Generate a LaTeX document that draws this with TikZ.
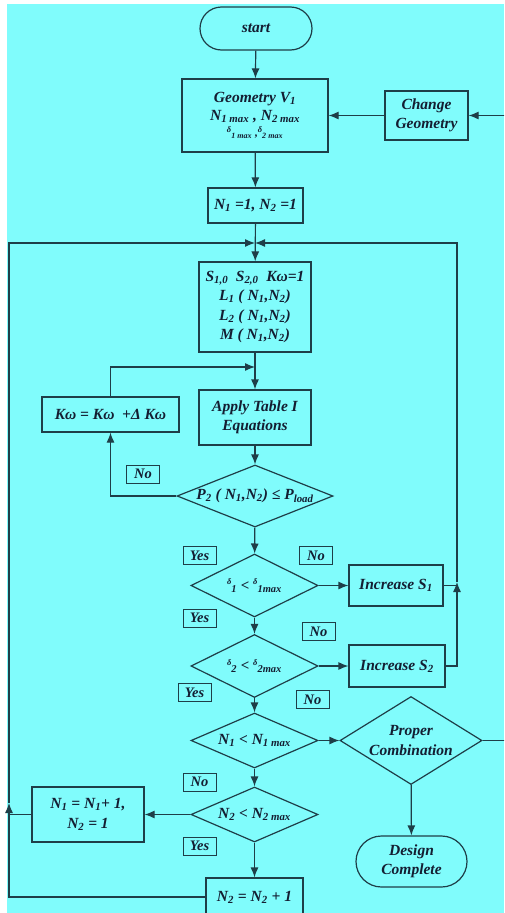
\documentclass[tikz,border=0pt]{standalone}
\usepackage{fontspec}
\setmainfont{Liberation Serif}
\usetikzlibrary{shapes.geometric,shapes.misc,arrows.meta}
\definecolor{bg}{RGB}{128,252,252}
\definecolor{lncol}{RGB}{30,62,72}
\definecolor{tx}{RGB}{20,30,50}
\newcommand{\sbs}[1]{\textsubscript{#1}}
\newcommand{\dl}{\raisebox{0.8ex}{\fontsize{8.5}{8.5}\selectfont δ}}
\begin{document}
\begin{tikzpicture}[x=1pt,y=-1pt,
  every node/.style={font=\fontsize{15.5}{19.5}\selectfont\bfseries\itshape, text=tx, align=center},
  box/.style={draw=lncol, line width=1.2pt, rectangle, inner sep=0pt},
  term/.style={box, rounded rectangle},
  dia/.style={draw=lncol, line width=1.2pt, diamond, inner sep=0pt},
  lab/.style={draw=lncol, line width=1pt, inner sep=0pt, minimum width=33pt, minimum height=18pt, font=\fontsize{14.5}{16}\selectfont\bfseries\itshape},
  arr/.style={draw=lncol, line width=1.2pt, -{Latex[length=10pt,width=8pt]}},
  plain/.style={draw=lncol, line width=1.2pt}
]
\useasboundingbox (0,0) rectangle (504,913);
\clip (0,0) rectangle (504,913);
\fill[white] (0,0) rectangle (504,913);
\fill[bg] (7,4) rectangle (504,913);

% nodes
\node[term, minimum width=112pt, minimum height=43pt] (start) at (256,28.5) {start};
\node[box, minimum width=146pt, minimum height=73pt] (geom) at (255,115.5)
  {Geometry V\sbs{1}\\[-2pt] N\sbs{1 max} , N\sbs{2 max}\\[-3pt] {\fontsize{11.5}{12}\selectfont \dl\sbs{1 max} ,\dl\sbs{2 max}}};
\node[box, minimum width=83pt, minimum height=49pt] (change) at (426.5,115.5) {Change\\Geometry};
\node[box, minimum width=95pt, minimum height=35pt] (init) at (255.5,205.5) {N\sbs{1} =1, N\sbs{2} =1};
\node[box, minimum width=112pt, minimum height=90pt] (sbox) at (255,307)
  {S\sbs{1,0}\ \ S\sbs{2,0}\ \ Kω=1\\L\sbs{1}\ ( N\sbs{1},N\sbs{2})\\L\sbs{2} ( N\sbs{1},N\sbs{2})\\M\ ( N\sbs{1},N\sbs{2})};
\node[box, minimum width=112pt, minimum height=55pt] (apply) at (255,417.5) {Apply Table I\\Equations};
\node[box, minimum width=137pt, minimum height=35pt] (kw) at (110.5,414.5) {Kω = Kω\ \ +Δ Kω};
\node[dia, minimum width=156pt, minimum height=62pt] (p2) at (255,496)
  {\makebox[0pt]{P\sbs{2} ( N\sbs{1},N\sbs{2}) ≤ P\sbs{load}}};
\node[dia, minimum width=127pt, minimum height=63pt] (d1) at (254.5,585.5)
  {\makebox[0pt]{\fontsize{15}{15}\selectfont\dl\sbs{1} < \dl\sbs{1max}}};
\node[dia, minimum width=127pt, minimum height=63pt] (d2) at (254.5,666)
  {\makebox[0pt]{\fontsize{15}{15}\selectfont\dl\sbs{2} < \dl\sbs{2max}}};
\node[dia, minimum width=127pt, minimum height=55pt] (n1) at (254.5,740.5)
  {\makebox[0pt]{N\sbs{1} < N\sbs{1 max}}};
\node[dia, minimum width=127pt, minimum height=55pt] (n2) at (254.5,814.5)
  {\makebox[0pt]{N\sbs{2} < N\sbs{2 max}}};
\node[dia, minimum width=142pt, minimum height=88pt] (pc) at (411,740.5)
  {\makebox[0pt]{\shortstack{Proper\\[2pt]Combination}}};
\node[box, minimum width=94pt, minimum height=41pt] (inc1) at (396,585.5) {Increase S\sbs{1}};
\node[box, minimum width=96pt, minimum height=42pt] (inc2) at (397,666) {Increase S\sbs{2}};
\node[box, minimum width=112pt, minimum height=55pt] (n1box) at (88,814.5) {N\sbs{1} = N\sbs{1}+ 1,\\N\sbs{2} = 1};
\node[term, minimum width=111pt, minimum height=51pt] (design) at (411.5,861.5) {Design\\Complete};
\node[box, minimum width=97pt, minimum height=38pt] (n2box) at (254.5,897) {N\sbs{2} = N\sbs{2} + 1};

% labels
\node[lab] (no1) at (143,474) {No};
\node[lab] (yes1) at (199.5,555.5) {Yes};
\node[lab] (no2) at (316,555.5) {No};
\node[lab] (yes2) at (199.5,618) {Yes};
\node[lab] (no3) at (318.5,631.5) {No};
\node[lab] (yes3) at (194.5,692.5) {Yes};
\node[lab] (no4) at (312.5,699.5) {No};
\node[lab] (no5) at (199.5,782) {No};
\node[lab] (yes4) at (199.5,846) {Yes};

% helper coordinates
\coordinate (j) at (255,243);
\coordinate (m) at (255,367);
\coordinate (rj) at (457,582);
\coordinate (lj) at (9,803);
\coordinate (fr) at (512,740.5);

% connectors
\draw[arr] (start) -- (geom);
\draw[arr] (geom) -- (init);
\draw[arr] (init) -- (sbox);
\draw[arr] (change) -- (geom);
\draw[arr] (sbox) -- (apply);
\draw[arr] (kw.north) |- (m);
\draw[arr] (p2.west) -| (kw.south);
\draw[arr] (apply) -- (p2);
\draw[arr] (p2) -- (d1);
\draw[arr] (d1) -- (inc1);
\draw[arr] (d1) -- (d2);
\draw[arr] (d2) -- (inc2);
\draw[arr] (d2) -- (n1);
\draw[arr] (n1) -- (pc);
\draw[arr] (n1) -- (n2);
\draw[arr] (n2) -- (n1box);
\draw[arr] (n2) -- (n2box);
\draw[arr] (pc) -- (design);
\draw[arr] (pc.east) -- (fr) |- (change.east);
\draw[arr] (inc2.east) -| (rj);
\draw[arr] (rj) |- (j);
\draw[plain] (inc1.east) -- (inc1.east -| rj);
\draw[arr] (n2box.west) -| (lj);
\draw[arr] (lj) |- (j);
\draw[plain] (n1box.west) -- (n1box.west -| lj);
\end{tikzpicture}
\end{document}
